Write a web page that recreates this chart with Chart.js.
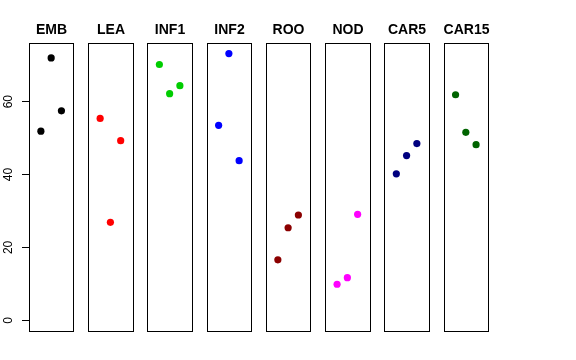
<!DOCTYPE html>
<html>
<head>
<meta charset="utf-8">
<script src="https://cdn.jsdelivr.net/npm/chart.js@4/dist/chart.umd.min.js"></script>
<style>
  html, body { margin: 0; padding: 0; background: #fff; }
  #wrap { width: 576px; height: 360px; }
</style>
</head>
<body>
<div id="wrap"><canvas id="chart" width="576" height="360"></canvas></div>
<script>
// panel names and colours
const panels = ['EMB', 'LEA', 'INF1', 'INF2', 'ROO', 'NOD', 'CAR5', 'CAR15']
const colors = ['#000000', '#FF0000', '#00CD00', '#0000FF', '#8B0000', '#FF00FF', '#000080', '#006400']

// three values per panel
const valEMB = [51.9, 72.0, 57.5]
const valLEA = [55.4, 26.9, 49.3]
const valINF1 = [70.2, 62.2, 64.4]
const valINF2 = [53.5, 73.2, 43.8]
const valROO = [16.6, 25.4, 28.9]
const valNOD = [9.9, 11.7, 29.1]
const valCAR5 = [40.2, 45.2, 48.5]
const valCAR15 = [61.9, 51.6, 48.2]
const values = [valEMB, valLEA, valINF1, valINF2, valROO, valNOD, valCAR5, valCAR15]

const yTicks = [0, 20, 40, 60]

// layout of the panels on one shared x scale (R style xlim 0..4 with 4% pad)
const step = 5.772
const padX = 0.16
const FONT = '"Liberation Sans", Arial, Helvetica, sans-serif'

const datasets = panels.map((name, i) => ({
  label: name,
  data: values[i].map((v, j) => ({ x: i * step + j + 1, y: v })),
  backgroundColor: colors[i],
  borderColor: colors[i],
  borderWidth: 0,
  pointRadius: 3.6,
  pointHoverRadius: 3.6,
  showLine: false,
}))

const panelPlugin = {
  id: 'panels',
  afterDraw(chart){
    const ctx = chart.ctx
    const xs = chart.scales.x, ys = chart.scales.y
    const top = chart.chartArea.top, bottom = chart.chartArea.bottom
    ctx.save()
    ctx.strokeStyle = '#000'
    ctx.lineWidth = 1
    panels.forEach((name, i) => {
      const l = Math.round(xs.getPixelForValue(i * step - padX)) + 0.5
      const r = Math.round(xs.getPixelForValue(i * step + 4 + padX)) + 0.5
      ctx.strokeRect(l, Math.round(top) + 0.5, r - l, Math.round(bottom) - Math.round(top))
      ctx.fillStyle = '#000'
      ctx.font = 'bold 14px ' + FONT
      ctx.textAlign = 'center'
      ctx.textBaseline = 'alphabetic'
      ctx.fillText(name, (l + r) / 2, 34)
    })
    // rotated y tick labels
    ctx.font = '12px ' + FONT
    ctx.textAlign = 'center'
    ctx.textBaseline = 'middle'
    yTicks.forEach(t => {
      const y = ys.getPixelForValue(t)
      ctx.save()
      ctx.translate(9, y)
      ctx.rotate(-Math.PI / 2)
      ctx.fillText(String(t), 0, 0)
      ctx.restore()
    })
    ctx.restore()
  }
}

new Chart(document.getElementById('chart'), {
  type: 'scatter',
  data: { datasets },
  plugins: [panelPlugin],
  options: {
    responsive: false,
    animation: false,
    events: [],
    layout: { padding: { left: 0, top: 43, right: 88, bottom: 29 } },
    plugins: { legend: { display: false }, tooltip: { enabled: false } },
    scales: {
      x: {
        type: 'linear',
        display: false,
        min: -padX,
        max: 7 * step + 4 + padX,
      },
      y: {
        type: 'linear',
        min: -2.93,
        max: 76.1,
        afterBuildTicks: s => { s.ticks = yTicks.map(v => ({ value: v })) },
        afterFit: s => { s.width = 29 },
        grid: { display: true, drawOnChartArea: false, drawTicks: true, tickLength: 7, color: '#000' },
        border: { display: false },
        ticks: { display: false },
      }
    }
  }
})
</script>
</body>
</html>
